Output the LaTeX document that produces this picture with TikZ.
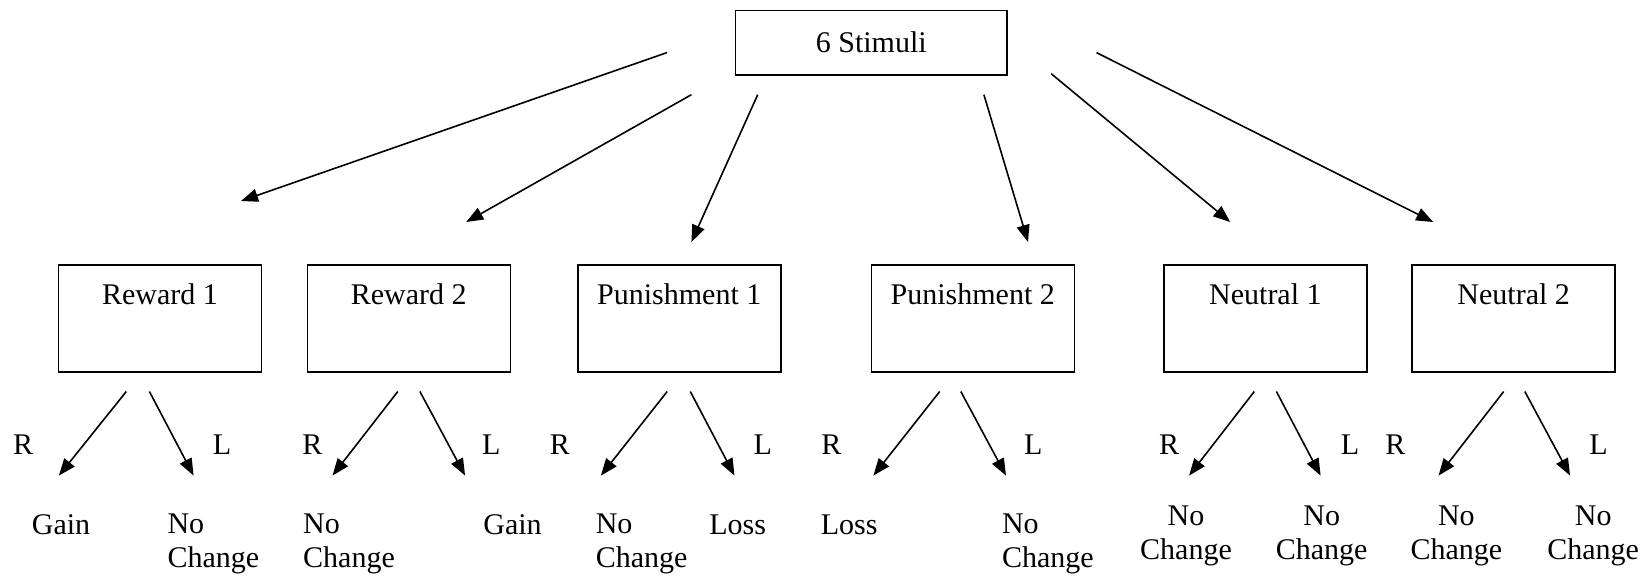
\documentclass[tikz,border=0pt]{standalone}
\usepackage{fontspec}
\setmainfont{Liberation Serif}
\usetikzlibrary{arrows.meta}
\begin{document}
\begin{tikzpicture}[x=1pt,y=-1pt,
  every node/.style={font=\fontsize{30pt}{34pt}\selectfont},
  conn/.style={line width=1.6pt,-{Triangle[length=17pt,width=13pt]}},
  topbox/.style={draw,line width=1.6pt,minimum width=271.5pt,minimum height=64.2pt,inner sep=0pt},
  catbox/.style={draw,line width=1.6pt,anchor=north,minimum width=203pt,inner xsep=0pt,inner ysep=0pt,text height=39.5pt,text depth=67.8pt},
  txt/.style={inner sep=0pt,anchor=base},
  lefttxt/.style={inner sep=0pt,anchor=base west,align=left},
  ctrtxt/.style={inner sep=0pt,anchor=base,align=center}
]
\useasboundingbox (0,0) rectangle (1650,576);

\node[topbox] (s) at (871.3,42.6) {6 Stimuli};

\node[catbox] (r1) at (160.0,264.1) {Reward 1};
\node[catbox] (r2) at (408.8,264.1) {Reward 2};
\node[catbox] (p1) at (679.3,264.1) {Punishment 1};
\node[catbox] (p2) at (972.8,264.1) {Punishment 2};
\node[catbox] (n1) at (1265.4,264.1) {Neutral 1};
\node[catbox] (n2) at (1513.7,264.1) {Neutral 2};

\coordinate (tas) at (667.0,52.6);   \coordinate (tae) at (241.0,201.0);
\coordinate (tbs) at (691.4,94.7);   \coordinate (tbe) at (466.2,222.0);
\coordinate (tcs) at (757.7,94.7);   \coordinate (tce) at (691.4,242.0);
\coordinate (tds) at (983.9,94.7);   \coordinate (tde) at (1028.0,242.0);
\coordinate (tes) at (1051.2,73.7);  \coordinate (tee) at (1230.2,222.0);
\coordinate (tfs) at (1096.5,52.6);  \coordinate (tfe) at (1433.2,222.0);
\draw[conn] (tas) -- (tae);
\draw[conn] (tbs) -- (tbe);
\draw[conn] (tcs) -- (tce);
\draw[conn] (tds) -- (tde);
\draw[conn] (tes) -- (tee);
\draw[conn] (tfs) -- (tfe);

\coordinate (b1ls) at (126.3,391.5);  \coordinate (b1le) at (58.9,475.6);
\coordinate (b1rs) at (149.4,391.5);  \coordinate (b1re) at (193.6,475.6);
\coordinate (b2ls) at (397.8,391.5);  \coordinate (b2le) at (332.5,475.6);
\coordinate (b2rs) at (419.9,391.5);  \coordinate (b2re) at (465.1,475.6);
\coordinate (b3ls) at (667.2,391.5);  \coordinate (b3le) at (600.9,475.6);
\coordinate (b3rs) at (690.3,391.5);  \coordinate (b3re) at (734.5,475.6);
\coordinate (b4ls) at (939.7,391.5);  \coordinate (b4le) at (873.4,475.6);
\coordinate (b4rs) at (960.8,391.5);  \coordinate (b4re) at (1006.0,475.6);
\coordinate (b5ls) at (1254.3,391.5); \coordinate (b5le) at (1189.1,475.6);
\coordinate (b5rs) at (1276.4,391.5); \coordinate (b5re) at (1320.6,475.6);
\coordinate (b6ls) at (1503.7,391.5); \coordinate (b6le) at (1438.5,475.6);
\coordinate (b6rs) at (1524.8,391.5); \coordinate (b6re) at (1570.1,475.6);
\draw[conn] (b1ls) -- (b1le);  \draw[conn] (b1rs) -- (b1re);
\draw[conn] (b2ls) -- (b2le);  \draw[conn] (b2rs) -- (b2re);
\draw[conn] (b3ls) -- (b3le);  \draw[conn] (b3rs) -- (b3re);
\draw[conn] (b4ls) -- (b4le);  \draw[conn] (b4rs) -- (b4re);
\draw[conn] (b5ls) -- (b5le);  \draw[conn] (b5rs) -- (b5re);
\draw[conn] (b6ls) -- (b6le);  \draw[conn] (b6rs) -- (b6re);

\node[txt] (lr1) at (23.2,454) {R};
\node[txt] (ll1) at (222.0,454) {L};
\node[txt] (lr2) at (312.5,454) {R};
\node[txt] (ll2) at (491.4,454) {L};
\node[txt] (lr3) at (559.8,454) {R};
\node[txt] (ll3) at (762.9,454) {L};
\node[txt] (lr4) at (831.3,454) {R};
\node[txt] (ll4) at (1033.4,454) {L};
\node[txt] (lr5) at (1169.1,454) {R};
\node[txt] (ll5) at (1350.1,454) {L};
\node[txt] (lr6) at (1395.4,454) {R};
\node[txt] (ll6) at (1598.4,454) {L};

\node[txt] (o1) at (61.0,534) {Gain};
\node[lefttxt] (o2) at (167.3,567.7) {No\\Change};
\node[lefttxt] (o3) at (303.0,567.7) {No\\Change};
\node[txt] (o4) at (512.5,534) {Gain};
\node[lefttxt] (o5) at (595.6,567.7) {No\\Change};
\node[txt] (o6) at (737.7,534) {Loss};
\node[txt] (o7) at (849.2,534) {Loss};
\node[lefttxt] (o8) at (1001.8,567.7) {No\\Change};
\node[ctrtxt] (o9) at (1186.0,559.3) {No\\Change};
\node[ctrtxt] (o10) at (1321.7,559.3) {No\\Change};
\node[ctrtxt] (o11) at (1456.4,559.3) {No\\Change};
\node[ctrtxt] (o12) at (1593.2,559.3) {No\\Change};
\end{tikzpicture}
\end{document}
